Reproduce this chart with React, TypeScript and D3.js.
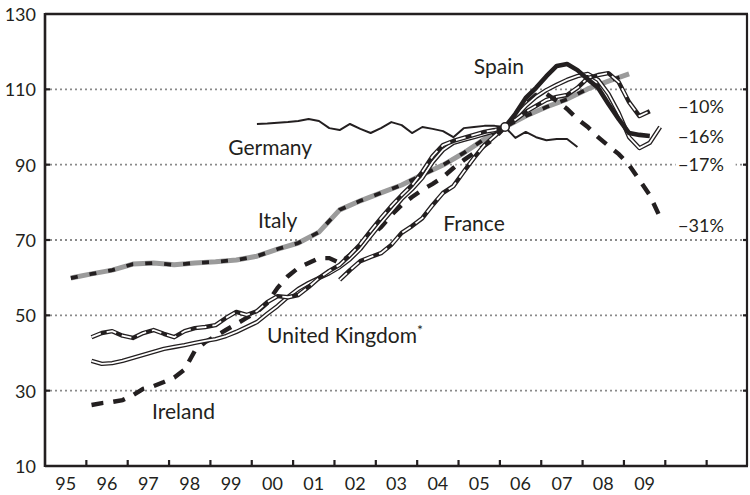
import React from 'react';
import * as d3 from 'd3';

type P = { t: number; v: number };

// ---------- data ----------
const yearLabels = ['95', '96', '97', '98', '99', '00', '01', '02', '03', '04', '05', '06', '07', '08', '09'];
const firstYear = 1995;
const lastYear = 2012;
const yTickValues = [10, 30, 50, 70, 90, 110, 130];
const gridValues = [30, 50, 70, 90, 110];
const baseDate = 2006.125; // 2006Q1 = 100
const baseValue = 100;

// Germany, quarterly from 2000Q1
const germanyStart = 2000.125;
const germany = [100.8, 100.9, 101.1, 101.3, 101.6, 102.1, 101.6, 99.7, 99.2, 100.8, 99.5, 98.4, 99.7, 101.3, 100.5, 98.4,
  100.0, 99.5, 98.9, 97.3, 99.7, 100.0, 100.3, 100.3, 100, 97.1, 98.7, 97.3, 96.5, 96.8, 96.8, 94.7];

// Italy, half-yearly from 1995Q3
const italyStart = 1995.625;
const italy = [59.9, 61.0, 62.0, 63.6, 63.9, 63.4, 63.9, 64.2, 64.7, 65.7, 67.6, 69.2, 72.1, 78.0, 80.4, 82.5, 84.6,
  87.3, 89.9, 93.1, 96.8, 100, 102.9, 105.3, 107.4, 110.1, 112.2, 114.1];

// Ireland, quarterly from 1996Q1
const irelandStart = 1996.125;
const ireland = [26.2, 26.7, 27.0, 27.5, 28.8, 30.5, 31.2, 32.3, 33.5, 35.6, 40.6, 42.9, 44.5, 46.1, 47.7, 49.3, 50.9,
  53.3, 57.3, 60.4, 62.6, 63.9, 65.2, 65.2, 63.9, 66.0, 68.7, 71.1, 73.4, 76.6, 79.3, 81.4, 83.3, 84.9, 86.7, 89.1,
  91.2, 93.1, 95.0, 97.1, 100, 103.2, 106.1, 108.5, 108.8, 106.9, 104.8, 102.1, 100, 97.3, 95.0, 92.8, 89.9, 85.9,
  81.9, 76.0];

// United Kingdom, quarterly from 1996Q1
const ukStart = 1996.125;
const uk = [37.9, 37.1, 37.3, 37.9, 38.7, 39.5, 40.3, 41.1, 41.6, 42.1, 42.7, 43.2, 43.7, 44.5, 45.6, 46.9, 48.2, 50.4,
  52.5, 54.9, 57.0, 58.6, 59.9, 61.2, 62.8, 64.9, 67.6, 71.1, 74.5, 77.7, 80.9, 83.5, 86.5, 90.7, 93.9, 95.8, 96.6,
  97.3, 98.1, 98.9, 100, 102.7, 105.6, 108.0, 109.8, 111.2, 112.5, 113.5, 114.1, 112.5, 108.8, 103.7, 97.3, 94.4,
  95.8, 100];

// France (long series), quarterly from 1996Q1 to 2006Q1
const franceLongStart = 1996.125;
const franceLong = [44.2, 45.3, 45.8, 44.6, 44.0, 45.3, 46.1, 45.1, 44.2, 45.8, 46.6, 46.9, 47.4, 49.3, 50.9, 50.1,
  51.1, 53.5, 55.1, 54.8, 55.4, 57.5, 59.9, 61.8, 63.4, 66.0, 68.9, 72.4, 75.8, 79.0, 81.9, 84.6, 88.1, 92.3, 95.2,
  96.3, 97.1, 97.9, 98.7, 99.2, 100];

// France, quarterly from 2002Q1
const franceStart = 2002.125;
const france = [59.4, 62.0, 64.4, 65.5, 66.5, 68.7, 71.9, 73.7, 75.8, 79.3, 82.5, 84.3, 88.1, 91.8, 95.2, 97.6, 100,
  101.9, 104.0, 105.6, 107.2, 108.0, 108.5, 110.4, 113.0, 113.8, 114.3, 111.9, 106.6, 102.9, 104.2];

// Spain, quarterly from 2006Q1
const spainStart = 2006.125;
const spain = [100, 103.5, 107.7, 110.4, 113.5, 116.2, 116.7, 115.1, 112.7, 110.4, 106.1, 102.1, 98.4, 97.9, 97.6];

const changeLabels = ['\u221210%', '\u221216%', '\u221217%', '\u221231%'];
const changeLabelValues = [103.7, 95.75, 88.3, 72.1];

const toPoints = (start: number, step: number, values: number[]): P[] =>
  values.map((v, i) => ({ t: start + i * step, v }));

const FONT = 'Lato, "Open Sans", "DejaVu Sans", sans-serif';
const INK = '#231f20';

export default function App() {
  const x = d3.scaleLinear().domain([firstYear, lastYear]).range([45, 748]);
  const y = d3.scaleLinear().domain([10, 130]).range([466, 14]);
  const line = d3.line<P>().x(d => x(d.t)).y(d => y(d.v)).curve(d3.curveLinear);

  const Q = 0.25;
  const gerP = toPoints(germanyStart, Q, germany);
  const itaP = toPoints(italyStart, 0.5, italy);
  const ireP = toPoints(irelandStart, Q, ireland);
  const ukP = toPoints(ukStart, Q, uk);
  const frLP = toPoints(franceLongStart, Q, franceLong);
  const frP = toPoints(franceStart, Q, france);
  const spP = toPoints(spainStart, Q, spain);

  const xTicks = d3.range(firstYear + 1, lastYear);
  const left = x(firstYear), right = x(lastYear);
  const top = y(130), bottom = y(10);

  const doubleLine = (pts: P[], dashed: boolean, key: string) => (
    <g key={key}>
      <path d={line(pts) || ''} fill="none" stroke={INK} strokeWidth={4.4} strokeLinejoin="round" strokeLinecap="butt" />
      <path d={line(pts) || ''} fill="none" stroke="#fff" strokeWidth={1.8} strokeLinejoin="round"
        strokeDasharray={dashed ? '10 6' : undefined} />
    </g>
  );

  return (
    <svg width={750} height={495} style={{ position: 'absolute', left: 0, top: 0, background: '#fff' }}
      fontFamily={FONT}>
      <rect x={0} y={0} width={750} height={495} fill="#fff" />
      {/* grid */}
      {gridValues.map(g => (
        <line key={g} x1={left} x2={right} y1={y(g)} y2={y(g)} stroke="#8a8a8a" strokeWidth={1.8}
          strokeDasharray="2 3" />
      ))}
      {/* y tick marks */}
      {gridValues.map(g => (
        <g key={'t' + g}>
          <line x1={left} x2={left + 5} y1={y(g)} y2={y(g)} stroke={INK} strokeWidth={2.2} />
          <line x1={right - 5} x2={right} y1={y(g)} y2={y(g)} stroke={INK} strokeWidth={2.2} />
        </g>
      ))}
      {/* x tick marks */}
      {xTicks.map(t => (
        <line key={t} x1={x(t)} x2={x(t)} y1={bottom} y2={bottom - 6} stroke={INK} strokeWidth={2.2} />
      ))}
      {/* frame */}
      <line x1={left} x2={left} y1={top - 1} y2={bottom + 1} stroke={INK} strokeWidth={2.6} />
      <line x1={left} x2={right} y1={top} y2={top} stroke={INK} strokeWidth={2.6} />
      <line x1={left} x2={right} y1={bottom} y2={bottom} stroke={INK} strokeWidth={2.6} />
      <line x1={right - 1} x2={right - 1} y1={top} y2={bottom} stroke={INK} strokeWidth={2.2} />

      {/* y labels */}
      {yTickValues.map(v => (
        <text key={v} x={36} y={y(v) + 7} textAnchor="end" fontSize={18} fill={INK}>{v}</text>
      ))}
      {/* x labels */}
      {yearLabels.map((lab, i) => (
        <text key={lab} x={x(firstYear + i + 0.5)} y={490} textAnchor="middle" fontSize={18} fill={INK}>{lab}</text>
      ))}

      {/* Germany */}
      <path d={line(gerP) || ''} fill="none" stroke={INK} strokeWidth={2} strokeLinejoin="round" />
      {/* Italy */}
      <path d={line(itaP) || ''} fill="none" stroke="#9b9b9b" strokeWidth={5} strokeLinejoin="round" />
      <path d={line(itaP) || ''} fill="none" stroke={INK} strokeWidth={3.8} strokeDasharray="7 12" />
      {/* Ireland */}
      <path d={line(ireP) || ''} fill="none" stroke={INK} strokeWidth={4.4} strokeDasharray="12 10" />
      {doubleLine(ukP, false, 'uk')}
      {doubleLine(frLP, true, 'frl')}
      {doubleLine(frP, true, 'fr')}
      {/* Spain */}
      <path d={line(spP) || ''} fill="none" stroke={INK} strokeWidth={4.6} strokeLinejoin="round" />
      <circle cx={x(baseDate)} cy={y(baseValue)} r={4.2} fill="#fff" stroke={INK} strokeWidth={1.6} />

      {/* series labels */}
      <g fontSize={21} fill={INK}>
        <text x={x(2005.37)} y={y(114.1)}>Spain</text>
        <text x={x(1999.43)} y={y(92.6)}>Germany</text>
        <text x={x(2000.15)} y={y(73.2)}>Italy</text>
        <text x={x(2004.63)} y={y(72.4)}>France</text>
        <text x={x(2000.37)} y={y(42.65)}>United Kingdom<tspan fontSize={14} dy={-8}>*</tspan></text>
        <text x={x(1997.59)} y={y(22.5)}>Ireland</text>
      </g>
      {/* change labels */}
      {changeLabels.map((lab, i) => (
        <g key={lab}>
          <rect x={x(2010.25)} y={y(changeLabelValues[i]) - 14} width={60} height={17} fill="#fff" />
          <text x={x(2010.31)} y={y(changeLabelValues[i])} fontSize={18} fill={INK}>{lab}</text>
        </g>
      ))}
    </svg>
  );
}
